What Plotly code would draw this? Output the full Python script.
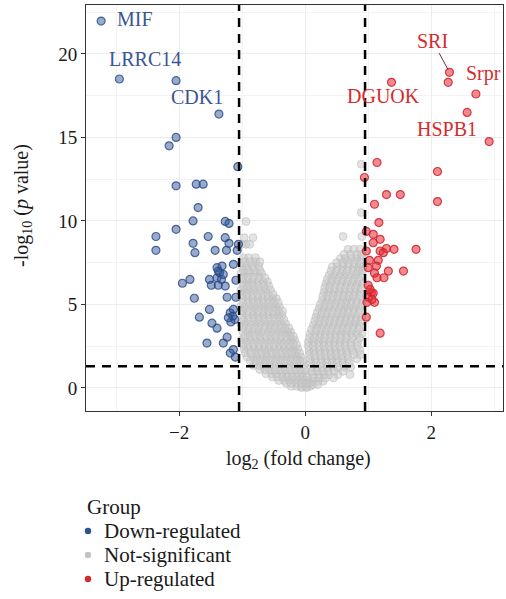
import plotly.graph_objects as go

# ---------------- data ----------------
down_x = [-3.24, -2.95, -2.05, -1.37, -2.05, -2.16, -1.07, -2.05, -1.73, -1.62,
          -1.70, -1.78, -2.05, -2.37, -2.37, -1.78, -1.75, -1.54, -1.43, -1.27,
          -1.21, -1.27, -1.21, -1.25, -1.08, -1.06, -1.14, -1.40, -1.32, -1.36,
          -1.40, -1.33, -1.38, -1.30, -1.95, -1.83, -1.52, -1.49, -1.38, -1.27,
          -1.10, -1.24, -1.10, -1.76, -1.52, -1.68, -1.48, -1.40, -1.19, -1.15,
          -1.12, -1.18, -1.14, -1.22, -1.24, -1.56, -1.30, -1.19, -1.11, -1.14]
down_y = [21.97, 18.5, 18.4, 16.4, 15.0, 14.5, 13.25, 12.1, 12.2, 12.2,
          10.8, 10.0, 9.5, 9.07, 8.24, 8.66, 8.1, 9.07, 8.24, 9.97,
          9.85, 9.0, 8.66, 8.24, 8.24, 8.6, 7.4, 7.2, 7.3, 6.9,
          6.6, 6.5, 7.0, 6.8, 6.27, 6.5, 6.5, 6.15, 6.15, 6.1,
          6.45, 5.43, 5.43, 5.37, 4.7, 4.24, 3.88, 3.58, 4.5, 4.3,
          4.1, 3.95, 4.7, 4.2, 3.04, 2.69, 2.69, 2.09, 1.85, 2.3]

up_x = [2.29, 2.27, 2.71, 2.57, 2.92, 1.37, 2.10, 2.10, 1.14, 0.94,
        1.29, 1.51, 1.10, 1.17, 0.97, 1.08, 1.19, 1.08, 0.97, 1.19,
        1.29, 1.41, 1.76, 1.24, 1.02, 1.16, 1.00, 1.13, 1.32, 1.56,
        1.10, 1.14, 1.25, 1.00, 1.05, 1.08, 1.00, 1.10, 0.98, 0.97,
        1.19, 1.03, 1.06]
up_y = [18.9, 18.3, 17.6, 16.5, 14.75, 18.3, 12.96, 11.16, 13.5, 12.6,
        11.58, 11.58, 11.0, 9.9, 9.37, 9.2, 8.9, 8.7, 8.2, 8.2,
        8.35, 8.3, 8.3, 8.1, 7.64, 7.64, 7.2, 7.3, 7.0, 7.0,
        6.87, 6.6, 6.6, 6.15, 5.7, 5.67, 5.43, 5.13, 5.13, 4.24,
        3.28, 5.9, 5.3]

# not-significant genes, read row by row (y level, x positions)
ns_row_y = [9.97, 9.0, 8.6, 7.8, 7.3, 6.85, 6.35, 5.85, 5.35, 4.85, 4.35, 3.85,
            3.35, 2.85, 2.35, 1.85, 1.35, 0.85, 0.45, 0.1, 0.02,
            7.55, 7.05, 6.6, 6.1, 5.6, 5.1, 4.6, 4.1, 3.6, 3.1, 2.6, 2.1, 1.6,
            1.1, 0.65, 0.28,
            13.4, 10.5, 9.07, 8.3, 7.75, 7.25, 6.75, 6.25, 5.75, 5.25, 4.75,
            4.25, 3.75, 3.25, 2.75, 2.25, 1.75, 1.25, 0.8, 0.4,
            8.0, 7.5, 7.0, 6.5, 6.0, 5.5, 5.0, 4.5, 4.0, 3.5, 3.0, 2.5, 2.0,
            1.5, 1.0, 0.6, 0.2]
ns_row_x = [
    [-0.94],
    [-0.83, -0.97],
    [-0.94, -1.01, -0.88],
    [-0.98, -0.90, -0.79],
    [-1.00, -0.93, -0.84, -0.74],
    [-1.02, -0.95, -0.87, -0.77, -0.69],
    [-0.99, -0.92, -0.85, -0.76, -0.67, -0.60],
    [-1.02, -0.95, -0.87, -0.80, -0.71, -0.63, -0.55],
    [-0.99, -0.91, -0.84, -0.75, -0.68, -0.59, -0.52, -0.46],
    [-1.03, -0.95, -0.86, -0.79, -0.70, -0.63, -0.55, -0.47, -0.41],
    [-1.00, -0.92, -0.83, -0.76, -0.67, -0.60, -0.51, -0.44, -0.37],
    [-1.02, -0.94, -0.86, -0.77, -0.70, -0.61, -0.54, -0.45, -0.38, -0.31],
    [-0.99, -0.91, -0.84, -0.75, -0.68, -0.59, -0.52, -0.43, -0.36, -0.28, -0.23],
    [-1.02, -0.93, -0.86, -0.77, -0.70, -0.61, -0.54, -0.45, -0.38, -0.30, -0.22, -0.17],
    [-0.97, -0.90, -0.81, -0.74, -0.65, -0.58, -0.49, -0.42, -0.33, -0.26, -0.18, -0.12],
    [-0.92, -0.83, -0.76, -0.67, -0.60, -0.51, -0.44, -0.35, -0.28, -0.20, -0.13, -0.07],
    [-0.82, -0.73, -0.66, -0.57, -0.50, -0.41, -0.34, -0.25, -0.18, -0.10, -0.03],
    [-0.62, -0.53, -0.46, -0.37, -0.30, -0.21, -0.14, -0.06, 0.01],
    [-0.42, -0.33, -0.26, -0.17, -0.10, -0.02, 0.05],
    [-0.22, -0.13, -0.06, 0.02, 0.08],
    [-0.06, 0.02],
    [-0.96, -0.87, -0.79, -0.72],
    [-0.98, -0.90, -0.81, -0.72],
    [-0.99, -0.90, -0.82, -0.73, -0.64],
    [-0.98, -0.90, -0.82, -0.74, -0.66, -0.58],
    [-1.00, -0.92, -0.83, -0.75, -0.67, -0.59, -0.51],
    [-0.99, -0.90, -0.82, -0.74, -0.66, -0.58, -0.50, -0.43],
    [-0.99, -0.90, -0.82, -0.74, -0.66, -0.58, -0.50, -0.42, -0.36],
    [-0.98, -0.90, -0.81, -0.73, -0.65, -0.57, -0.49, -0.41, -0.34],
    [-0.98, -0.89, -0.81, -0.73, -0.64, -0.56, -0.48, -0.40, -0.32, -0.26],
    [-0.96, -0.88, -0.80, -0.72, -0.63, -0.55, -0.47, -0.39, -0.31, -0.24, -0.19],
    [-0.99, -0.90, -0.82, -0.73, -0.65, -0.57, -0.49, -0.41, -0.34, -0.26, -0.19, -0.14],
    [-0.95, -0.86, -0.78, -0.70, -0.62, -0.54, -0.46, -0.38, -0.30, -0.22, -0.15, -0.09],
    [-0.87, -0.79, -0.71, -0.63, -0.55, -0.47, -0.39, -0.31, -0.23, -0.15, -0.08, -0.04],
    [-0.72, -0.64, -0.56, -0.48, -0.40, -0.32, -0.24, -0.16, -0.08, -0.01],
    [-0.52, -0.44, -0.36, -0.28, -0.20, -0.12, -0.04, 0.03],
    [-0.30, -0.22, -0.14, -0.06, 0.02, 0.07],
    [0.89],
    [0.89],
    [0.60, 0.90],
    [0.68, 0.77, 0.87],
    [0.56, 0.64, 0.73, 0.82, 0.90],
    [0.43, 0.51, 0.60, 0.68, 0.77, 0.85, 0.92],
    [0.38, 0.46, 0.55, 0.63, 0.72, 0.80, 0.89],
    [0.33, 0.41, 0.49, 0.57, 0.66, 0.74, 0.83, 0.91],
    [0.30, 0.38, 0.46, 0.54, 0.62, 0.70, 0.79, 0.87],
    [0.27, 0.35, 0.43, 0.51, 0.59, 0.66, 0.74, 0.82, 0.91],
    [0.22, 0.30, 0.38, 0.46, 0.54, 0.62, 0.69, 0.77, 0.86],
    [0.17, 0.25, 0.33, 0.41, 0.49, 0.57, 0.65, 0.73, 0.81, 0.90],
    [0.13, 0.21, 0.29, 0.37, 0.45, 0.53, 0.61, 0.69, 0.77, 0.85],
    [0.08, 0.16, 0.24, 0.32, 0.40, 0.48, 0.56, 0.64, 0.73, 0.81, 0.90],
    [0.05, 0.13, 0.21, 0.29, 0.38, 0.46, 0.55, 0.63, 0.72, 0.83],
    [0.06, 0.14, 0.23, 0.31, 0.40, 0.48, 0.57, 0.65, 0.75, 0.87],
    [0.08, 0.16, 0.25, 0.33, 0.42, 0.50, 0.59, 0.68, 0.82],
    [0.10, 0.18, 0.27, 0.35, 0.44, 0.52, 0.62, 0.72],
    [0.13, 0.21, 0.30, 0.38, 0.52, 0.71],
    [0.12, 0.20, 0.28],
    [0.62, 0.72, 0.82, 0.90],
    [0.50, 0.60, 0.69, 0.78, 0.87],
    [0.41, 0.50, 0.59, 0.67, 0.76, 0.84, 0.91],
    [0.35, 0.43, 0.51, 0.60, 0.68, 0.77, 0.85],
    [0.31, 0.39, 0.47, 0.56, 0.64, 0.72, 0.80, 0.89],
    [0.28, 0.36, 0.44, 0.52, 0.61, 0.69, 0.77, 0.86],
    [0.24, 0.32, 0.40, 0.48, 0.57, 0.65, 0.73, 0.81, 0.90],
    [0.19, 0.27, 0.35, 0.43, 0.52, 0.60, 0.68, 0.77, 0.85],
    [0.15, 0.23, 0.31, 0.39, 0.47, 0.55, 0.64, 0.72, 0.80, 0.88],
    [0.10, 0.18, 0.26, 0.34, 0.42, 0.51, 0.59, 0.67, 0.76, 0.85],
    [0.07, 0.15, 0.23, 0.31, 0.40, 0.48, 0.57, 0.66, 0.75, 0.86],
    [0.05, 0.13, 0.22, 0.30, 0.38, 0.47, 0.55, 0.64, 0.73, 0.83],
    [0.07, 0.15, 0.24, 0.32, 0.41, 0.49, 0.58, 0.67, 0.77, 0.88],
    [0.09, 0.17, 0.26, 0.34, 0.43, 0.51, 0.60, 0.70],
    [0.11, 0.19, 0.28, 0.36, 0.46, 0.60],
    [0.14, 0.22, 0.32, 0.45],
    [0.12, 0.20],
]
ns_x = [x for row in ns_row_x for x in row]
ns_y = [y for y, row in zip(ns_row_y, ns_row_x) for _ in row]

x_ticks = [-2, 0, 2]
x_tick_text = ["\u22122", "0", "2"]
y_ticks = [0, 5, 10, 15, 20]

fc_cut_low, fc_cut_high = -1.05, 0.95
p_cut = 1.3

down_labels = ["MIF", "LRRC14", "CDK1"]
down_label_x = [-3.02, -2.54, -1.71]
down_label_y = [22.1, 19.7, 17.4]

up_labels = ["Srpr", "DGUOK", "HSPB1"]
up_label_x = [2.83, 1.24, 2.25]
up_label_y = [18.8, 17.5, 15.5]

sri_point = (2.29, 18.9)
sri_label = (2.02, 20.8)

groups = ["Down-regulated", "Not-significant", "Up-regulated"]
group_colors = ["#2e5190", "#c4c4c4", "#d22b2b"]

# ---------------- figure ----------------
FONT = "Liberation Serif"
BLUE_TXT = "#3a5694"
RED_TXT = "#d42c2c"
TXT = "#1a1a1a"

L, R, T, B, W, H = 86, 3, 5, 188, 506, 599
PW, PH = W - L - R, H - T - B


def px_x(px):  # page pixel -> paper x
    return (px - L) / PW


def px_y(py):  # page pixel -> paper y
    return (H - B - py) / PH


fig = go.Figure()
fig.add_trace(go.Scatter(
    x=ns_x, y=ns_y, mode="markers", showlegend=False, hoverinfo="skip",
    marker=dict(size=8, color="rgba(200,200,200,0.5)",
                line=dict(width=1, color="rgba(188,188,188,0.55)"))))
fig.add_trace(go.Scatter(
    x=down_x, y=down_y, mode="markers", showlegend=False,
    marker=dict(size=8, color="rgba(52,88,150,0.5)",
                line=dict(width=1.2, color="rgba(40,72,135,0.8)"))))
fig.add_trace(go.Scatter(
    x=up_x, y=up_y, mode="markers", showlegend=False,
    marker=dict(size=8, color="rgba(232,40,50,0.55)",
                line=dict(width=1.2, color="rgba(205,35,45,0.85)"))))

dash_line = dict(color="black", width=2.5, dash="9px,7px")
for xv in (fc_cut_low, fc_cut_high):
    fig.add_shape(type="line", xref="x", yref="paper", x0=xv, x1=xv, y0=0, y1=1,
                  line=dash_line, layer="above")
fig.add_shape(type="line", xref="paper", yref="y", x0=0, x1=1, y0=p_cut, y1=p_cut,
              line=dash_line, layer="above")

for t, x, y in zip(down_labels, down_label_x, down_label_y):
    fig.add_annotation(x=x, y=y, text=t, showarrow=False,
                       xanchor="left" if t == "MIF" else "center", yanchor="middle",
                       font=dict(family=FONT, size=20, color=BLUE_TXT))
for t, x, y in zip(up_labels, up_label_x, up_label_y):
    fig.add_annotation(x=x, y=y, text=t, showarrow=False, xanchor="center", yanchor="middle",
                       font=dict(family=FONT, size=20, color=RED_TXT))
fig.add_annotation(x=sri_point[0], y=sri_point[1], ax=sri_label[0], ay=sri_label[1],
                   axref="x", ayref="y", text="SRI", showarrow=True, arrowhead=0,
                   arrowwidth=1, arrowcolor="#7a2a3a", standoff=3,
                   font=dict(family=FONT, size=20, color=RED_TXT))

# axis titles
fig.add_annotation(xref="paper", yref="paper", x=px_x(298), y=px_y(460),
                   xanchor="center", yanchor="middle",
                   text="log<sub>2</sub> (fold change)", showarrow=False,
                   font=dict(family=FONT, size=20, color=TXT))
fig.add_annotation(xref="paper", yref="paper", x=px_x(22), y=px_y(206),
                   xanchor="center", yanchor="middle",
                   text="-log<sub>10</sub> (<i>p</i> value)", showarrow=False, textangle=-90,
                   font=dict(family=FONT, size=20, color=TXT))

# legend (drawn by hand to match the key spacing)
fig.add_annotation(xref="paper", yref="paper", x=px_x(85), y=px_y(507), text="Group",
                   showarrow=False, xanchor="left", yanchor="middle",
                   font=dict(family=FONT, size=21, color=TXT))
for i, (name, col) in enumerate(zip(groups, group_colors)):
    cy = 531 + 24 * i
    fig.add_shape(type="circle", xref="paper", yref="paper",
                  xsizemode="pixel", ysizemode="pixel",
                  xanchor=px_x(88), yanchor=px_y(cy),
                  x0=-3.2, x1=3.2, y0=-3.2, y1=3.2,
                  fillcolor=col, line=dict(width=0))
    fig.add_annotation(xref="paper", yref="paper", x=px_x(102), y=px_y(cy), text=name,
                       showarrow=False, xanchor="left", yanchor="middle",
                       font=dict(family=FONT, size=21, color=TXT))

fig.update_layout(
    width=W, height=H,
    margin=dict(l=L, r=R, t=T, b=B, autoexpand=False),
    plot_bgcolor="white", paper_bgcolor="white",
    font=dict(family=FONT, size=19, color=TXT),
    showlegend=False,
    xaxis=dict(range=[-3.48, 3.14], tickvals=x_ticks, ticktext=x_tick_text,
               showgrid=True, gridcolor="#ececec", gridwidth=1,
               minor=dict(tickvals=[-3, -1, 1, 3], showgrid=True, gridcolor="#f3f3f3"),
               zeroline=False, showline=True, linecolor="#333", linewidth=1, mirror=True,
               ticks="outside", ticklen=4, tickcolor="#333",
               tickfont=dict(family=FONT, size=19, color=TXT)),
    yaxis=dict(range=[-1.38, 22.93], tickvals=y_ticks,
               showgrid=True, gridcolor="#ececec", gridwidth=1,
               minor=dict(tickvals=[2.5, 7.5, 12.5, 17.5, 22.5], showgrid=True, gridcolor="#f3f3f3"),
               zeroline=False, showline=True, linecolor="#333", linewidth=1, mirror=True,
               ticks="outside", ticklen=4, tickcolor="#333",
               tickfont=dict(family=FONT, size=19, color=TXT)),
)

fig.write_html("out.html", config={"displayModeBar": False},
               post_script="document.body.style.margin='0';")
